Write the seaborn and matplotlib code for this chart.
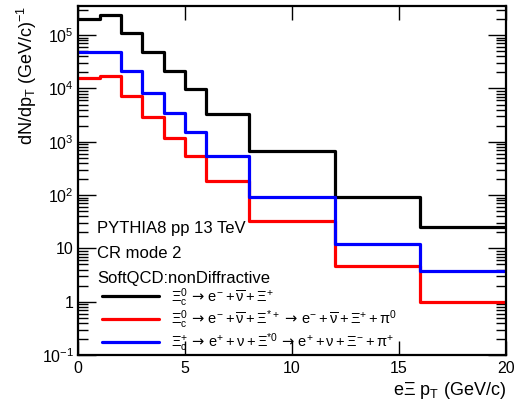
import numpy as np
import pandas as pd
import matplotlib
matplotlib.use("Agg")
import matplotlib.pyplot as plt
import matplotlib.ticker as mticker
import seaborn as sns

# pT bin edges (GeV/c)
bin_edges = [0, 1, 2, 3, 4, 5, 6, 8, 12, 16, 20]

# dN/dpT per bin for each decay chain
xic0_direct = [2.0e5, 2.4e5, 1.1e5, 4.9e4, 2.1e4, 9.7e3, 3.3e3, 6.6e2, 93, 25]
xic0_via_star = [1.6e4, 1.7e4, 7.2e3, 2.9e3, 1.2e3, 5.5e2, 1.8e2, 32, 4.6, 1.0]
xicp_via_star = [4.8e4, 4.9e4, 2.1e4, 8.3e3, 3.5e3, 1.5e3, 5.3e2, 92, 12, 3.8]

ARROW = r"\,\mathsf{\rightarrow}\,"
labels = [
    r"$\Xi_{c}^{0}" + ARROW + r"e^{-}+\overline{\nu}+\Xi^{+}$",
    r"$\Xi_{c}^{0}" + ARROW + r"e^{-}+\overline{\nu}+\Xi^{*+}" + ARROW
    + r"e^{-}+\overline{\nu}+\Xi^{+}+\pi^{0}$",
    r"$\Xi_{c}^{+}" + ARROW + r"e^{+}+\nu+\Xi^{*0}" + ARROW
    + r"e^{+}+\nu+\Xi^{-}+\pi^{+}$",
]
colors = ["black", "#ff0000", "#0000ff"]
info_lines = ["PYTHIA8 pp 13 TeV", "CR mode 2", "SoftQCD:nonDiffractive"]

sns.set_theme(style="ticks", rc={
    "text.color": "black", "axes.labelcolor": "black",
    "xtick.color": "black", "ytick.color": "black",
    "axes.edgecolor": "black",
})
plt.rcParams["font.family"] = ["Liberation Sans", "DejaVu Sans"]
plt.rcParams["mathtext.fontset"] = "custom"
plt.rcParams["mathtext.rm"] = "Liberation Sans"
plt.rcParams["mathtext.it"] = "Liberation Sans"
plt.rcParams["mathtext.bf"] = "Liberation Sans:bold"
plt.rcParams["mathtext.sf"] = "DejaVu Sans"
plt.rcParams["mathtext.default"] = "regular"

frames = []
for series, name in zip([xic0_direct, xic0_via_star, xicp_via_star], labels):
    frames.append(pd.DataFrame({
        "pt": bin_edges,
        "dndpt": list(series) + [series[-1]],
        "channel": name,
    }))
df = pd.concat(frames, ignore_index=True)

fig = plt.figure(figsize=(5.14, 4.09), dpi=100)
ax = fig.add_axes([0.152, 0.132, 0.832, 0.853])

sns.lineplot(data=df, x="pt", y="dndpt", hue="channel", palette=colors,
             drawstyle="steps-post", estimator=None, linewidth=2.3, ax=ax,
             legend=False)

ax.set_yscale("log")
ax.set_xlim(0, 20)
ax.set_ylim(0.1, 3.5e5)

ax.xaxis.set_major_locator(mticker.FixedLocator([0, 5, 10, 15, 20]))
ax.xaxis.set_major_formatter(mticker.FixedFormatter(["0", "5", "10", "15", "20"]))
ax.yaxis.set_major_locator(mticker.FixedLocator([0.1, 1, 10, 1e2, 1e3, 1e4, 1e5]))
ax.yaxis.set_major_formatter(mticker.FixedFormatter(
    [r"$10^{-1}$", "1", "10", r"$10^{2}$", r"$10^{3}$", r"$10^{4}$", r"$10^{5}$"]))
ax.yaxis.set_minor_locator(mticker.LogLocator(base=10, subs=np.arange(2, 10), numticks=20))
ax.yaxis.set_minor_formatter(mticker.NullFormatter())

ax.tick_params(axis="both", which="both", direction="in", top=True, right=True,
               labelsize=11.5, colors="black", width=1.0)
ax.tick_params(axis="x", which="major", length=10, pad=4)
ax.tick_params(axis="y", which="major", length=13, pad=3)
ax.tick_params(axis="y", which="minor", length=7)
for sp in ax.spines.values():
    sp.set_linewidth(1.6)
    sp.set_color("black")

ax.set_ylabel(r"dN/dp$_{T}$ (GeV/c)$^{-1}$", fontsize=13, loc="top", labelpad=2)
ax.set_xlabel(r"e$\Xi$ p$_{T}$ (GeV/c)", fontsize=13, loc="right", labelpad=3)

for i, txt in enumerate(info_lines):
    ax.text(0.044, 0.362 - i * 0.0715, txt, transform=ax.transAxes,
            fontsize=12, va="center", ha="left")

handles = [plt.Line2D([], [], color=c, linewidth=2.3) for c in colors]
ax.legend(handles, labels, loc="upper left", bbox_to_anchor=(0.056, 0.198),
          frameon=False, fontsize=10.5, handlelength=3.9, handletextpad=0.8,
          labelspacing=0.0, borderpad=0, borderaxespad=0)

fig.savefig("out.png", dpi=100)
